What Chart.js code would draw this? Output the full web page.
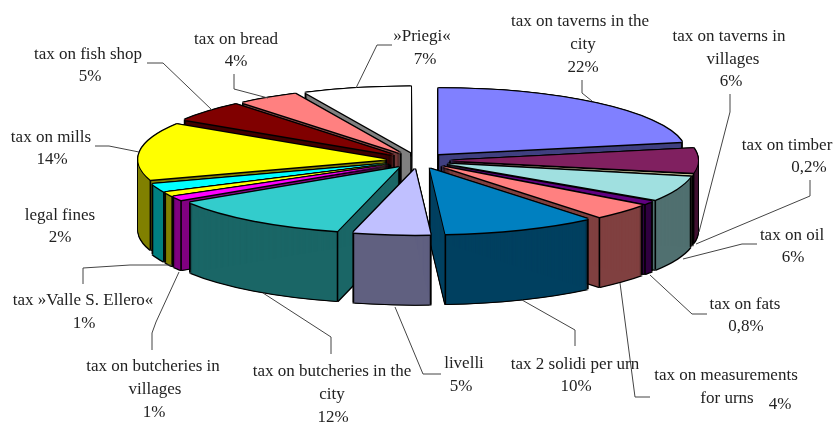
<!DOCTYPE html>
<html>
<head>
<meta charset="utf-8">
<title>Taxes</title>
<script src="https://cdn.jsdelivr.net/npm/chart.js@4"></script>
<style>
	html, body { margin: 0; padding: 0; background: #fff; }
	canvas { display: block; }
</style>
</head>
<body>
<canvas id="pie" width="834" height="423"></canvas>
<script>
'use strict';

/* data, clockwise from 12 o'clock */
var categories = [
	'tax on taverns in the city', 'tax on taverns in villages', 'tax on timber', 'tax on oil',
	'tax on fats', 'tax on measurements for urns', 'tax 2 solidi per urn', 'livelli',
	'tax on butcheries in the city', 'tax on butcheries in villages', 'tax »Valle S. Ellero«', 'legal fines',
	'tax on mills', 'tax on fish shop', 'tax on bread', '»Priegi«'
];
var shares = [22, 6, 0.2, 6, 0.8, 4, 10, 5, 12, 1, 1, 2, 14, 5, 4, 7];

var topColors = [
	'#8080ff', '#802060', '#ffffc8', '#a0e0e0', '#600080', '#ff8080', '#0080c0', '#c0c0ff',
	'#33cccc', '#ff00ff', '#ffff00', '#00ffff', '#ffff00', '#800000', '#ff8080', '#ffffff'
];
var sideColors = [
	'#404080', '#401030', '#808064', '#507070', '#300040', '#804040', '#004060', '#606080',
	'#1a6666', '#800080', '#808000', '#008080', '#808000', '#400000', '#804040', '#808080'
];

/* label text: [text, x, y] (centre of each line), then the leader line */
var labelLines = [
	[['tax on taverns in the', 580, 22], ['city', 583, 45], ['22%', 583, 68]],
	[['tax on taverns in', 729, 37], ['villages', 733, 60], ['6%', 731, 82]],
	[['tax on timber', 787, 146], ['0,2%', 809, 168]],
	[['tax on oil', 792, 236], ['6%', 793, 258]],
	[['tax on fats', 745, 305], ['0,8%', 746, 327]],
	[['tax on measurements', 726, 376], ['for urns', 727, 399], ['4%', 780, 405]],
	[['tax 2 solidi per urn', 575, 365], ['10%', 576, 387]],
	[['livelli', 464, 364], ['5%', 461, 387]],
	[['tax on butcheries in the', 332, 372], ['city', 332, 395], ['12%', 333, 418]],
	[['tax on butcheries in', 153, 367], ['villages', 155, 390], ['1%', 154, 413]],
	[['tax »Valle S. Ellero«', 83, 301], ['1%', 84, 324]],
	[['legal fines', 60, 216], ['2%', 60, 238]],
	[['tax on mills', 51, 138], ['14%', 52, 160]],
	[['tax on fish shop', 88, 55], ['5%', 90, 77]],
	[['tax on bread', 236, 40], ['4%', 236, 62]],
	[['»Priegi«', 422, 37], ['7%', 425, 60]]
];
var leaders = [
	[[582, 80], [582, 93], [592, 101]],
	[[730, 94], [730, 112], [699, 232]],
	[[810, 180], [810, 196], [696, 244]],
	[[757, 244], [742, 244], [683, 259]],
	[[650, 275], [692, 314], [707, 314]],
	[[650, 397], [635, 397], [620, 283]],
	[[575, 346], [575, 330], [522, 300]],
	[[441, 374], [423, 374], [395, 307]],
	[[331, 354], [331, 337], [263, 293]],
	[[152, 350], [152, 333], [156, 322], [179, 272]],
	[[83, 284], [83, 268], [130, 265], [172, 265]],
	[],
	[[95, 146], [109, 146], [139, 152]],
	[[147, 63], [163, 63], [212, 110]],
	[[234, 74], [234, 89], [268, 98]],
	[[392, 45], [377, 45], [356, 88]]
];

/* look of the fake 3D */
var tilt = 0.265;     //flattening of the pie
var depth = 70;       //height of the side walls
var explode = 32;     //how far each slice is pulled out
var pieCenterY = 160.5;

//draws one arc with the chart's own element, squeezed and moved
function drawArc(chart, arc, dx, dy, color) {
	var ctx = chart.ctx;
	var keep = arc.options;
	var mid = (arc.startAngle + arc.endAngle) / 2;
	arc.options = Object.assign({}, keep, { backgroundColor: color, borderWidth: 0, offset: 0 });
	ctx.save();
	ctx.translate(dx, dy + pieCenterY - arc.y * tilt);
	ctx.scale(1, tilt);
	ctx.translate(Math.cos(mid) * explode, Math.sin(mid) * explode);
	arc.draw(ctx);
	ctx.restore();
	arc.options = keep;
}

//screen position of a point of the slice, radius r along angle a
function slicePoint(arc, a, r) {
	var mid = (arc.startAngle + arc.endAngle) / 2;
	return {
		x: arc.x + Math.cos(mid) * explode + Math.cos(a) * r,
		y: pieCenterY + (Math.sin(mid) * explode + Math.sin(a) * r) * tilt
	};
}

function wall(ctx, p) {
	ctx.beginPath();
	ctx.moveTo(p.x, p.y);
	ctx.lineTo(p.x, p.y + depth);
	ctx.stroke();
}

var pie3d = {
	id: 'pie3d',
	beforeDatasetDraw: function(chart) {
		var ctx = chart.ctx;
		var arcs = chart.getDatasetMeta(0).data.map(function(arc, i) { return { arc: arc, i: i }; });
		//back slices first
		arcs.sort(function(a, b) {
			var ma = (a.arc.startAngle + a.arc.endAngle) / 2;
			var mb = (b.arc.startAngle + b.arc.endAngle) / 2;
			return Math.sin(ma) - Math.sin(mb);
		});
		arcs.forEach(function(item) {
			var arc = item.arc, d;
			var a = arc.startAngle, b = arc.endAngle;
			//black silhouette
			for (d = -1; d <= depth + 1; d++) {
				drawArc(chart, arc, -1, d, '#000');
				drawArc(chart, arc, 1, d, '#000');
			}
			//side walls
			for (d = 1; d <= depth; d++) {
				drawArc(chart, arc, 0, d, sideColors[item.i]);
			}
			//vertical edges that can be seen from the front
			ctx.save();
			ctx.strokeStyle = '#000';
			ctx.lineWidth = 1.6;
			if (Math.cos(a) < 0 || Math.sin(a) > 0) wall(ctx, slicePoint(arc, a, arc.outerRadius));
			if (Math.cos(b) > 0 || Math.sin(b) > 0) wall(ctx, slicePoint(arc, b, arc.outerRadius));
			if (Math.cos(a) < 0 || Math.cos(b) > 0) wall(ctx, slicePoint(arc, a, 0));
			ctx.restore();
			//top face
			drawArc(chart, arc, -1, 0, '#000');
			drawArc(chart, arc, 1, 0, '#000');
			drawArc(chart, arc, 0, -1, '#000');
			drawArc(chart, arc, 0, 1.5, '#000');
			drawArc(chart, arc, 0, 0, topColors[item.i]);
		});
		return false;
	},
	afterDatasetsDraw: function(chart) {
		var ctx = chart.ctx;
		ctx.save();
		//leader lines
		ctx.strokeStyle = '#444';
		ctx.lineWidth = 1;
		leaders.forEach(function(line) {
			if (!line.length) return;
			ctx.beginPath();
			line.forEach(function(p, i) {
				if (i === 0) ctx.moveTo(p[0], p[1]);
				else ctx.lineTo(p[0], p[1]);
			});
			ctx.stroke();
		});
		//labels
		ctx.fillStyle = '#222';
		ctx.font = '17px "Liberation Serif"';
		ctx.textAlign = 'center';
		ctx.textBaseline = 'middle';
		labelLines.forEach(function(lines) {
			lines.forEach(function(l) {
				ctx.fillText(l[0], l[1], l[2]);
			});
		});
		ctx.restore();
	}
};

new Chart(document.getElementById('pie'), {
	type: 'pie',
	data: {
		labels: categories,
		datasets: [{
			data: shares,
			backgroundColor: topColors,
			borderWidth: 0,
			radius: 248
		}]
	},
	options: {
		responsive: false,
		animation: false,
		layout: { padding: { left: 2 } },
		plugins: {
			legend: { display: false },
			tooltip: { enabled: false }
		}
	},
	plugins: [pie3d]
});
</script>
</body>
</html>
